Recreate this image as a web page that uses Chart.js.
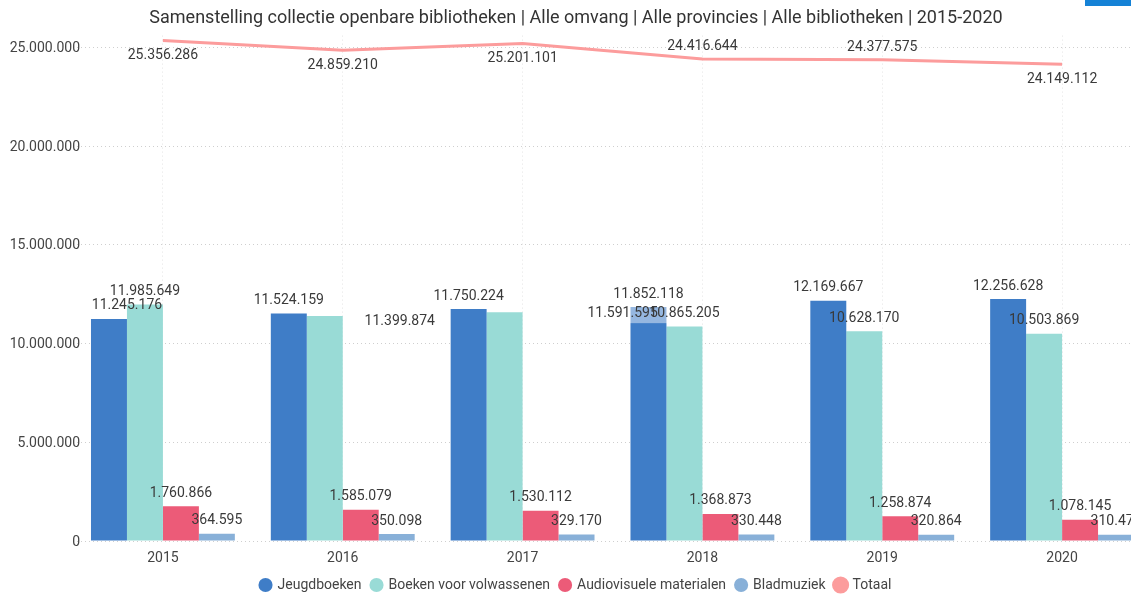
<!DOCTYPE html>
<html>
<head>
<meta charset="utf-8">
<script src="https://cdn.jsdelivr.net/npm/chart.js@4.4.1/dist/chart.umd.min.js"></script>
<style>
    html, body { margin: 0; padding: 0; background: #fff; overflow: hidden; }
    #wrap { position: relative; width: 1160px; height: 597px; }
    #tab { position: absolute; left: 1085px; top: 0; width: 46px; height: 6px; background: #1582d6; }
</style>
</head>
<body>
<div id="wrap">
    <canvas id="collectie-graph"></canvas>
</div>
<div id="tab"></div>
<script>
const years = ['2015', '2016', '2017', '2018', '2019', '2020'];
const jeugdboeken = [11245176, 11524159, 11750224, 11852118, 12169667, 12256628];
const boekenVolwassenen = [11985649, 11399874, 11591595, 10865205, 10628170, 10503869];
const audiovisueel = [1760866, 1585079, 1530112, 1368873, 1258874, 1078145];
const bladmuziek = [364595, 350098, 329170, 330448, 320864, 310470];
const totaal = [25356286, 24859210, 25201101, 24416644, 24377575, 24149112];
const yTicks = [0, 5000000, 10000000, 15000000, 20000000, 25000000];

const FONT = 'Roboto, "Noto Sans", sans-serif';

const formatNL = (value) => String(Math.round(value)).replace(/\B(?=(\d{3})+(?!\d))/g, '.');

// label placement tweaks (Power BI moved a few labels around)
const totaalAbove = [false, false, false, true, true, false];
const labelShift = {
    '0-0': { dx: 18, dy: 0 },
    '1-1': { dx: 75, dy: 19 },
    '1-2': { dx: 118, dy: 14, bg: 'rgba(255,255,255,0.45)' },
};

const dataLabels = {
    id: 'dataLabels',
    afterDatasetsDraw(chart) {
        const ctx = chart.ctx;
        ctx.save();
        ctx.font = '14px ' + FONT;
        ctx.textAlign = 'center';
        ctx.textBaseline = 'middle';
        chart.data.datasets.forEach((ds, d) => {
            const meta = chart.getDatasetMeta(d);
            meta.data.forEach((el, i) => {
                const text = formatNL(ds.data[i]);
                let x = el.x;
                let y;
                if (ds.type === 'line') {
                    y = totaalAbove[i] ? el.y - 12 : el.y + 15;
                } else {
                    y = el.y - 13;
                    const s = labelShift[d + '-' + i];
                    if (s) {
                        x += s.dx;
                        y += s.dy;
                        if (s.bg) {
                            const w = ctx.measureText(text).width;
                            ctx.fillStyle = s.bg;
                            ctx.fillRect(x - w / 2 - 2, y - 8, w + 46, 18);
                        }
                    }
                }
                ctx.fillStyle = '#3a3a3a';
                ctx.fillText(text, x, y);
            });
        });

        // y axis labels, drawn here so they may run a bit into the plot area
        const yScale = chart.scales.y;
        ctx.fillStyle = '#444';
        ctx.textAlign = 'right';
        yTicks.forEach(v => {
            ctx.fillText(formatNL(v), 80, yScale.getPixelForValue(v) + 1);
        });
        ctx.restore();
    }
};

const collectieChart = document.getElementById('collectie-graph');

let collectieGraph = new Chart(collectieChart, {
    type: 'bar',
    data: {
        labels: years,
        datasets: [{
            label: 'Jeugdboeken',
            data: jeugdboeken,
            backgroundColor: '#3f7dc7',
        }, {
            label: 'Boeken voor volwassenen',
            data: boekenVolwassenen,
            backgroundColor: '#99dbd6',
        }, {
            label: 'Audiovisuele materialen',
            data: audiovisueel,
            backgroundColor: '#ec5b78',
        }, {
            label: 'Bladmuziek',
            data: bladmuziek,
            backgroundColor: '#88b0d8',
        }, {
            type: 'line',
            label: 'Totaal',
            data: totaal,
            borderColor: '#fc9c9c',
            backgroundColor: '#fc9c9c',
            borderWidth: 3,
            pointRadius: 0,
            pointStyle: 'circle',
            tension: 0,
        }]
    },
    options: {
        responsive: true,
        maintainAspectRatio: false,
        animation: false,
        layout: { padding: { left: 0, right: 8, top: 0, bottom: -5 } },
        datasets: {
            bar: { categoryPercentage: 0.8, barPercentage: 1.0 }
        },
        scales: {
            x: {
                afterFit: (scale) => {
                    scale.height = 27;
                },
                grid: { offset: false, color: '#e4e4e4', drawTicks: false },
                border: { display: false, dash: [1, 3] },
                ticks: { color: '#444', font: { family: FONT, size: 14 }, padding: 9 },
            },
            y: {
                min: 0,
                max: 25600000,
                afterBuildTicks: (scale) => {
                    scale.ticks = yTicks.map(v => ({ value: v }));
                },
                afterFit: (scale) => {
                    scale.width = 73;
                },
                grid: { color: '#cfcfcf', drawTicks: false },
                border: { display: false, dash: [1, 3] },
                ticks: { display: false },
            }
        },
        plugins: {
            title: {
                display: true,
                text: 'Samenstelling collectie openbare bibliotheken | Alle omvang | Alle provincies | Alle bibliotheken | 2015-2020',
                color: '#333',
                font: { family: FONT, size: 18, weight: 'normal' },
                padding: { top: 8, bottom: 6 },
            },
            legend: {
                position: 'bottom',
                labels: {
                    usePointStyle: true,
                    pointStyle: 'circle',
                    boxWidth: 10,
                    boxHeight: 10,
                    padding: 10,
                    color: '#444',
                    font: { family: FONT, size: 14 },
                }
            },
            tooltip: { enabled: false },
        },
    },
    plugins: [dataLabels],
});
</script>
</body>
</html>
